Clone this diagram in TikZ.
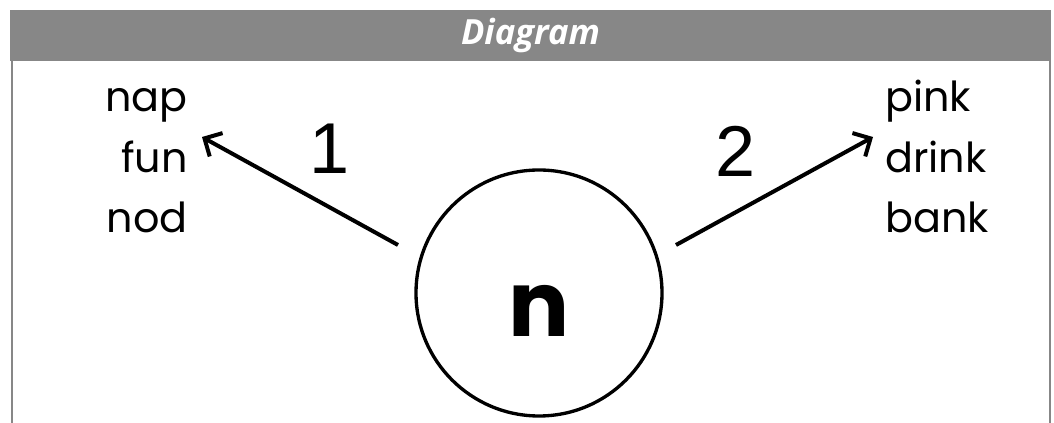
\documentclass[tikz,border=0pt]{standalone}
\usepackage{fontspec}
\setmainfont{Poppins}
\newfontfamily\headfont{Open Sans}
\newfontfamily\digitfont{Liberation Sans}
\usepackage{tikz}
\usetikzlibrary{positioning, arrows.meta, calc}
\definecolor{bargray}{HTML}{878787}
\tikzset{
    header/.style={
        rectangle,
        fill=bargray,
        minimum width=780.75pt,
        minimum height=38.25pt,
        text=white,
        font=\headfont\bfseries\itshape\fontsize{26}{30}\selectfont
    },
    frame/.style={
        draw=bargray,
        line width=1.5pt
    },
    word/.style={
        inner sep=0pt,
        font=\fontsize{31}{36}\selectfont
    },
    number/.style={
        inner sep=0pt,
        font=\digitfont\fontsize{54}{60}\selectfont
    },
    sound/.style={
        circle,
        draw,
        line width=2.5pt,
        minimum size=184.5pt,
        font=\bfseries\fontsize{68}{72}\selectfont
    },
    arrow/.style={
        -{Straight Barb[length=10pt, width=20pt]},
        line width=3pt
    }
}

\begin{document}
\begin{tikzpicture}[x=0.75pt, y=-0.75pt]
    \useasboundingbox (0,0) rectangle (1054,423);
    \node[header] (head) at (530.5,35.5) {Diagram};
    \draw[frame] (12,61) -- (12,423);
    \draw[frame] (1050,61) -- (1050,423);

    \node[sound] (circ) at (539,293) {\raisebox{-33pt}[0pt][0pt]{n}};

    % left group
    \node[word, anchor=base east] (nap) at (188,112) {nap};
    \node[word, anchor=base east] (fun) at (188,173) {fun};
    \node[word, anchor=base east] (nod) at (188,233) {nod};
    % right group
    \node[word, anchor=base west] (pink) at (885,112) {pink};
    \node[word, anchor=base west] (drink) at (885,173) {drink};
    \node[word, anchor=base west] (bank) at (885,233) {bank};

    \node[number] (one) at (330,149) {1};
    \node[number] (two) at (736,151) {2};

    \coordinate (lstart) at (398,245);
    \coordinate (ltip) at (202,137);
    \coordinate (rstart) at (676,245);
    \coordinate (rtip) at (873,137);
    \draw[arrow] (lstart) -- (ltip);
    \draw[arrow] (rstart) -- (rtip);
\end{tikzpicture}
\end{document}
